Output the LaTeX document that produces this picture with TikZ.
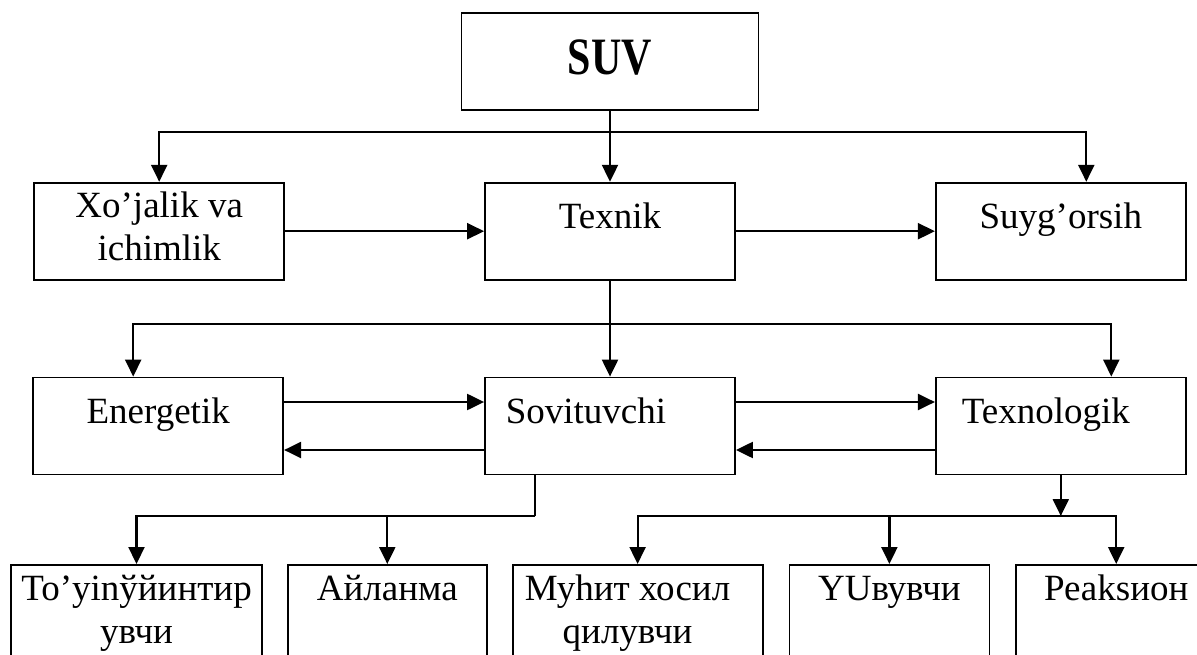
\documentclass[tikz,border=0pt]{standalone}
\usepackage{fontspec}
\setmainfont{Liberation Serif}
\usetikzlibrary{positioning,arrows.meta}

\newcommand{\twoline}[2]{\begin{tabular}[t]{@{}c@{}}#1\\#2\end{tabular}}

\begin{document}
\begin{tikzpicture}[
  x=1pt, y=-1pt,
  every node/.style={font=\fontsize{37}{43}\selectfont},
  box/.style={draw, line width=1.8pt, inner sep=0pt, minimum width=250pt, minimum height=97pt},
  rowbox/.style={box, text height=46pt, text depth=51pt},
  leafbox/.style={box, minimum height=100pt, text height=36pt, text depth=64pt},
  arr/.style={-{Triangle[length=17pt, width=16pt]}, line width=2.2pt},
  wire/.style={line width=2.2pt}
]
\useasboundingbox (0,0) rectangle (1197,655);

% ---------------- top ----------------
\node[box, anchor=north, minimum width=297pt, text height=61pt, text depth=35pt,
      font=\fontsize{42}{50}\selectfont\bfseries] (suv) at (610,12) {\scalebox{1}[1.25]{SUV}};

% ---------------- first row ----------------
\node[rowbox, below=71pt of suv] (texnik) {Texnik};
\node[rowbox, text height=35pt, text depth=62pt, left=199pt of texnik] (xoj)
  {\twoline{Xo’jalik va}{ichimlik}};
\node[rowbox, right=199pt of texnik] (suyg) {Suyg’orsih};

% ---------------- second row ----------------
\node[rowbox, below=96pt of texnik] (sovit) {Sovituvchi\hspace*{48pt}};
\node[rowbox, left=200pt of sovit] (energ) {Energetik};
\node[rowbox, right=199pt of sovit] (texnol) {Texnologik\hspace*{30pt}};

% ---------------- leaves ----------------
\node[leafbox, anchor=north, minimum width=251pt] (b1) at (136.5,564)
  {\twoline{To’yinўйинтир}{увчи}};
\node[leafbox, minimum width=199pt, right=24pt of b1] (b2) {Айланма};
\node[leafbox, right=24pt of b2] (b3) {\twoline{Муhит хосил\hspace*{20pt}}{qилувчи\hspace*{20pt}}};
\node[leafbox, minimum width=200pt, right=25pt of b3] (b4) {YUвувчи};
\node[leafbox, minimum width=200pt, right=25pt of b4] (b5) {Реаksион};

% ---------------- arrows ----------------
\coordinate (hubA) at (610,132);
\coordinate (hubB) at (610,324);
\coordinate (hubC) at (535,516);
\coordinate (hubD) at (texnol.south |- hubC);

\draw[arr] (suv) -- (texnik);
\draw[arr] (hubA) -| (xoj.north);
\draw[arr] (hubA) -| ([xshift=25.5pt]suyg.north);
\draw[arr] (xoj) -- (texnik);
\draw[arr] (texnik) -- (suyg);

\draw[arr] (texnik) -- (sovit);
\draw[arr] (hubB) -| ([xshift=-25pt]energ.north);
\draw[arr] (hubB) -| ([xshift=50.5pt]texnol.north);
\draw[arr] ([yshift=24pt]energ.east) -- ([yshift=24pt]sovit.west);
\draw[arr] ([yshift=-24pt]sovit.west) -- ([yshift=-24pt]energ.east);
\draw[arr] ([yshift=24pt]sovit.east) -- ([yshift=24pt]texnol.west);
\draw[arr] ([yshift=-24pt]texnol.west) -- ([yshift=-24pt]sovit.east);

\draw[wire] ([xshift=-75pt]sovit.south) |- (hubC);
\draw[arr] (hubC) -| (b1.north);
\draw[arr] (hubC) -| (b2.north);
\draw[arr] (texnol.south) -- (hubD);
\draw[arr] (hubD) -| (b3.north);
\draw[arr] (hubD) -| (b4.north);
\draw[arr] (hubD) -| (b5.north);

\end{tikzpicture}
\end{document}
